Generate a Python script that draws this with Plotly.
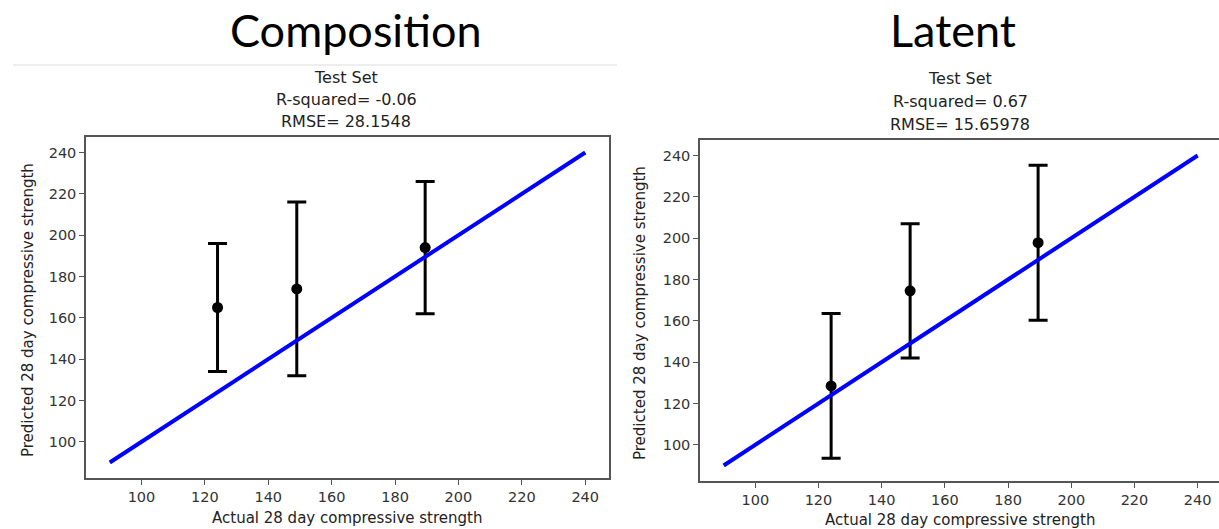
import plotly.graph_objects as go

W, H = 1219, 529

# ---- data ----
actual = [124, 149, 189.5]
comp_pred = [165, 174, 194]
comp_err = [31, 42, 32]
lat_pred = [128.5, 174.5, 197.8]
lat_err = [35, 32.5, 37.5]
ideal_x = [90, 240]
ideal_y = [90, 240]
ticks = [100, 120, 140, 160, 180, 200, 220, 240]
panel_titles = ["Composition", "Latent"]
sub_titles = [["Test Set", "R-squared= -0.06", "RMSE= 28.1548"],
              ["Test Set", "R-squared= 0.67", "RMSE= 15.65978"]]
xlabel = "Actual 28 day compressive strength"
ylabel = "Predicted 28 day compressive strength"


def px(x):
    return x / W


def py(y):
    return 1 - y / H


fig = go.Figure()

for i, (pred, err) in enumerate([(comp_pred, comp_err), (lat_pred, lat_err)]):
    xa = "x" if i == 0 else "x2"
    ya = "y" if i == 0 else "y2"
    fig.add_trace(go.Scatter(
        x=actual, y=pred, mode="markers", xaxis=xa, yaxis=ya,
        marker=dict(color="black", size=11),
        error_y=dict(type="data", array=err, visible=True, color="black",
                     thickness=3, width=9.5),
        showlegend=False, hoverinfo="skip"))
    fig.add_trace(go.Scatter(
        x=ideal_x, y=ideal_y, mode="lines", xaxis=xa, yaxis=ya,
        line=dict(color="#0000ff", width=4),
        showlegend=False, hoverinfo="skip"))

tickfont = dict(family="DejaVu Sans", size=14.5, color="#333")
axis_common = dict(
    showgrid=False, zeroline=False, showline=True, linecolor="#555",
    linewidth=1.5, ticks="outside", ticklen=5, tickwidth=1.2,
    tickcolor="#555", tickvals=ticks, tickfont=tickfont, fixedrange=True)

fig.update_layout(
    width=W, height=H, margin=dict(l=0, r=0, t=0, b=0),
    paper_bgcolor="white", plot_bgcolor="white",
    xaxis=dict(domain=[px(86), px(609)], range=[82.5, 247.5], anchor="y",
               mirror=True, **axis_common),
    yaxis=dict(domain=[py(478), py(137)], range=[82.5, 247.5], anchor="x",
               mirror=True, **axis_common),
    xaxis2=dict(domain=[px(700), 1.0], range=[82.5, 246.75], anchor="y2",
                mirror=True, **axis_common),
    yaxis2=dict(domain=[py(481), py(140)], range=[82.5, 247.5], anchor="x2",
                mirror=False, **axis_common),
)

ann = []
# big panel titles
for t, cx in zip(panel_titles, [355.5, 953]):
    ann.append(dict(text=t, x=px(cx), y=py(30), xref="paper", yref="paper",
                    xanchor="center", yanchor="middle", showarrow=False,
                    font=dict(family="Lato", size=45, color="black")))
# subtitles
for lines, cx, dy in zip(sub_titles, [346, 960], [0, 2]):
    for j, line in enumerate(lines):
        ann.append(dict(text=line, x=px(cx), y=py(77 + 22.5 * j + dy),
                        xref="paper", yref="paper", xanchor="center",
                        yanchor="middle", showarrow=False,
                        font=dict(family="DejaVu Sans", size=16, color="#222")))
# axis labels
for cx, cy in [(347, 518), (960, 520)]:
    ann.append(dict(text=xlabel, x=px(cx), y=py(cy), xref="paper",
                    yref="paper", xanchor="center", yanchor="middle",
                    showarrow=False,
                    font=dict(family="DejaVu Sans", size=15, color="#222")))
for cx, cy in [(28, 310), (640, 313)]:
    ann.append(dict(text=ylabel, x=px(cx), y=py(cy), xref="paper",
                    yref="paper", xanchor="center", yanchor="middle",
                    textangle=-90, showarrow=False,
                    font=dict(family="DejaVu Sans", size=15, color="#222")))
fig.update_layout(annotations=ann)

fig.add_shape(type="line", xref="paper", yref="paper",
              x0=px(13), x1=px(617), y0=py(65), y1=py(65),
              line=dict(color="#dddddd", width=1.2))

fig.write_html("out.html")
